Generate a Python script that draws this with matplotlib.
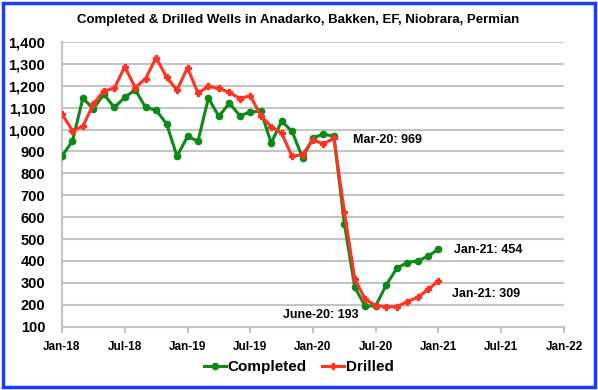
import matplotlib.pyplot as plt
import numpy as np
from matplotlib.patches import Rectangle

plt.rcParams['font.family'] = ['Liberation Sans', 'DejaVu Sans']

# monthly values, Jan-18 .. Jan-21
completed = [880, 947, 1144, 1094, 1162, 1101, 1147, 1182, 1101, 1089, 1026, 878,
             969, 947, 1144, 1060, 1121, 1064, 1079, 1086, 939, 1038, 992, 871,
             962, 980, 969, 571, 279, 193, 196, 290, 366, 393, 400, 422, 454]
drilled = [1071, 995, 1015, 1117, 1177, 1188, 1288, 1192, 1233, 1329, 1238, 1181,
           1283, 1167, 1197, 1188, 1170, 1142, 1155, 1064, 1014, 983, 878, 886,
           953, 935, 960, 623, 317, 225, 196, 191, 191, 214, 234, 270, 309]
tick_labels = ['Jan-18', 'Jul-18', 'Jan-19', 'Jul-19', 'Jan-20', 'Jul-20',
               'Jan-21', 'Jul-21', 'Jan-22']
yticks = np.arange(100, 1401, 100)

x = np.arange(len(completed))

fig = plt.figure(figsize=(5.98, 3.90), dpi=100)
ax = fig.add_axes([62/598, 1-326.7/390, (564-62)/598, (326.7-42)/390])

grid_c = '#c4c4c4'
ax.plot(x, completed, color='#0b8a17', lw=2.2, marker='o', ms=4.5, label='Completed', zorder=3)
ax.plot(x, drilled, color='#ff3322', lw=2.2, marker='P', ms=4.5, label='Drilled', zorder=4)

ax.set_xlim(0, 48)
ax.set_ylim(100, 1400)
ax.set_yticks(yticks)
ax.set_yticklabels([f'{v:,}' for v in yticks], fontweight='bold', fontsize=10.5)
ax.set_xticks(np.arange(0, 49, 6))
ax.set_xticklabels(tick_labels, fontweight='bold', fontsize=8.5)
ax.yaxis.grid(True, color=grid_c, lw=1.5)
ax.set_axisbelow(True)
for s in ['top', 'right']:
    ax.spines[s].set_visible(False)
ax.spines['left'].set_color(grid_c)
ax.spines['bottom'].set_color(grid_c)
ax.spines['left'].set_linewidth(1.5)
ax.spines['bottom'].set_linewidth(1.5)
ax.tick_params(axis='y', length=0, pad=12)
ax.tick_params(axis='x', length=4, color=grid_c, width=1.5, pad=6)

ax.text(27.85, 954, 'Mar-20: 969', fontweight='bold', fontsize=9, va='center')
ax.text(21.15, 153, 'June-20: 193', fontweight='bold', fontsize=9, va='center')
ax.text(37.5, 449, 'Jan-21: 454', fontweight='bold', fontsize=9, va='center')
ax.text(37.3, 249, 'Jan-21: 309', fontweight='bold', fontsize=9, va='center')

fig.text(0.498, 1-20.5/390, 'Completed & Drilled Wells in Anadarko, Bakken, EF, Niobrara, Permian',
         ha='center', va='center', fontweight='bold', fontsize=9.5)

leg = ax.legend(loc='center', bbox_to_anchor=(299/598, 1-367/390), bbox_transform=fig.transFigure,
                ncol=2, frameon=False, prop={'weight': 'bold', 'size': 11},
                handlelength=1.4, handletextpad=0.15, columnspacing=1.0)

fig.patches.append(Rectangle((3/598, 3/390), 592/598, 384/390, transform=fig.transFigure,
                             fill=False, edgecolor='#1a3cff', lw=2.5))

fig.savefig('out.png', dpi=100)
